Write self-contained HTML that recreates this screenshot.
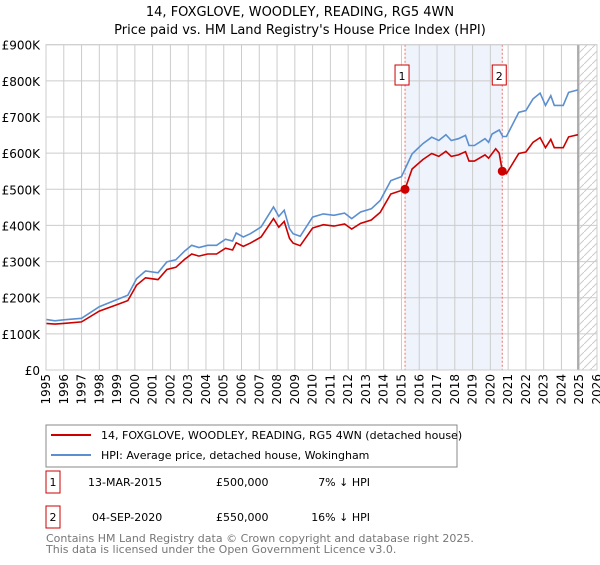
<!DOCTYPE html>
<html><head><meta charset="utf-8"><style>
body{margin:0;background:#fff;font-family:"Liberation Sans","DejaVu Sans",sans-serif;}
</style></head><body>
<svg width="600" height="560" xmlns="http://www.w3.org/2000/svg" font-family="DejaVu Sans, Liberation Sans, sans-serif">
<text x="300" y="16" text-anchor="middle" font-size="13">14, FOXGLOVE, WOODLEY, READING, RG5 4WN</text>
<text x="300" y="34" text-anchor="middle" font-size="13">Price paid vs. HM Land Registry's House Price Index (HPI)</text>
<g id="plot"></g>
<rect x="46" y="425" width="411" height="42" fill="#fff" stroke="#888"/>
<line x1="51" y1="435" x2="91" y2="435" stroke="#cc0000" stroke-width="2"/>
<text x="101" y="439" font-size="11">14, FOXGLOVE, WOODLEY, READING, RG5 4WN (detached house)</text>
<line x1="51" y1="455" x2="91" y2="455" stroke="#5b8fd0" stroke-width="2"/>
<text x="101" y="459" font-size="11">HPI: Average price, detached house, Wokingham</text>
<rect x="46" y="471" width="14" height="22" fill="#fff" stroke="#cc0000"/>
<text x="53" y="486" font-size="11" text-anchor="middle">1</text>
<text x="88" y="486" font-size="11">13-MAR-2015</text>
<text x="216" y="486" font-size="11">£500,000</text>
<text x="370" y="486" font-size="11" text-anchor="end">7% ↓ HPI</text>
<rect x="46" y="506" width="14" height="22" fill="#fff" stroke="#cc0000"/>
<text x="53" y="521" font-size="11" text-anchor="middle">2</text>
<text x="92" y="521" font-size="11">04-SEP-2020</text>
<text x="216" y="521" font-size="11">£550,000</text>
<text x="370" y="521" font-size="11" text-anchor="end">16% ↓ HPI</text>
<text x="46" y="542" font-size="11" fill="#777">Contains HM Land Registry data © Crown copyright and database right 2025.</text>
<text x="46" y="553" font-size="11" fill="#777">This data is licensed under the Open Government Licence v3.0.</text>
</svg>
<script>
const yearTicks=[1995,1996,1997,1998,1999,2000,2001,2002,2003,2004,2005,2006,2007,2008,2009,2010,2011,2012,2013,2014,2015,2016,2017,2018,2019,2020,2021,2022,2023,2024,2025,2026];
const yTicks=[0,100,200,300,400,500,600,700,800,900];
const yTickLabels=["£0","£100K","£200K","£300K","£400K","£500K","£600K","£700K","£800K","£900K"];
const hpiYears=[1995,1995.5,1996,1997,1998,1999,1999.6,2000.1,2000.6,2001.3,2001.8,2002.3,2002.8,2003.2,2003.6,2004.1,2004.6,2005.1,2005.5,2005.7,2006.1,2006.5,2007.1,2007.8,2008.1,2008.4,2008.7,2008.9,2009.3,2010.0,2010.6,2011.2,2011.8,2012.2,2012.7,2013.3,2013.8,2014.4,2015.0,2015.6,2016.2,2016.7,2017.1,2017.5,2017.8,2018.2,2018.6,2018.8,2019.1,2019.7,2019.9,2020.1,2020.5,2020.7,2020.9,2021.6,2022.0,2022.4,2022.8,2023.1,2023.4,2023.6,2024.1,2024.4,2024.93];
const hpiValues=[140,136,139,143,175,195,207,253,274,269,299,305,329,345,339,345,345,362,357,379,368,377,396,451,425,442,391,377,370,423,432,428,434,419,437,446,469,524,535,598,626,644,635,651,635,640,649,621,621,640,630,653,664,646,646,713,718,750,766,732,759,732,732,768,775];
const priceYears=[1995,1995.5,1996,1997,1998,1999,1999.6,2000.1,2000.6,2001.3,2001.8,2002.3,2002.8,2003.2,2003.6,2004.1,2004.6,2005.1,2005.5,2005.7,2006.1,2006.5,2007.1,2007.8,2008.1,2008.4,2008.7,2008.9,2009.3,2010.0,2010.6,2011.2,2011.8,2012.2,2012.7,2013.3,2013.8,2014.4,2015.2,2015.6,2016.2,2016.7,2017.1,2017.5,2017.8,2018.2,2018.6,2018.8,2019.1,2019.7,2019.9,2020.3,2020.5,2020.67,2020.9,2021.6,2022.0,2022.4,2022.8,2023.1,2023.4,2023.6,2024.1,2024.4,2024.93];
const priceValues=[129,127,129,133,163,181,192,235,255,250,278,284,306,321,315,321,321,337,332,352,342,351,368,419,395,411,364,351,344,393,402,398,404,390,406,415,436,487,500,556,582,599,591,605,591,595,604,578,578,595,586,612,600,550,543,599,603,630,643,615,638,615,615,645,651];
const saleYears=[2015.2,2020.67];
const saleValues=[500,550];
const saleLabels=["1","2"];
const NS="http://www.w3.org/2000/svg";
const X0=46,X1=597,Y0=370,Y1=44.7;
const xs=y=>X0+(y-1995)*(X1-X0)/31;
const ys=v=>Y0-v*(Y0-Y1)/900;
const g=document.getElementById('plot');
function mk(t,a){const e=document.createElementNS(NS,t);for(const k in a)e.setAttribute(k,a[k]);g.appendChild(e);return e;}
let e;
e=mk('rect',{x:xs(saleYears[0]),y:Y1,width:xs(saleYears[1])-xs(saleYears[0]),height:Y0-Y1,fill:'#eef3fc'});


yTicks.forEach((v,i)=>{
 e=mk('line',{x1:X0,x2:X1,y1:ys(v),y2:ys(v),stroke:'#ccc','stroke-width':1});
 
 
 e=mk('text',{x:40,y:ys(v)+5,'text-anchor':'end','font-size':12});
 e.textContent=yTickLabels[i];
 
 
});
yearTicks.forEach(yr=>{
 e=mk('line',{x1:xs(yr),x2:xs(yr),y1:Y1,y2:Y0,stroke:'#ccc','stroke-width':1});
 
 
 e=mk('text',{x:0,y:0,'font-size':12,'text-anchor':'end',transform:`translate(${xs(yr)+4},374) rotate(-90)`});
 e.textContent=yr;
 
 
});
const defs=mk('defs',{});
defs.innerHTML='<pattern id="h" width="8" height="8" patternUnits="userSpaceOnUse"><path d="M0,8 L8,0" stroke="#ccc" stroke-width="1"/></pattern>';
const lastYr=hpiYears[hpiYears.length-1];
e=mk('rect',{x:xs(lastYr),y:Y1,width:X1-xs(lastYr),height:Y0-Y1,fill:'url(#h)'});


e=mk('line',{x1:xs(lastYr),x2:xs(lastYr),y1:Y1,y2:Y0,stroke:'#999','stroke-width':1.5});


saleYears.forEach((yr,i)=>{
 e=mk('line',{x1:xs(yr),x2:xs(yr),y1:Y1,y2:Y0,stroke:'#f07070','stroke-width':1,'stroke-dasharray':'2,2'});
 
 
});
e=mk('path',{d:hpiYears.map((y,i)=>(i?'L':'M')+xs(y).toFixed(1)+','+ys(hpiValues[i]).toFixed(1)).join(''),fill:'none',stroke:'#5b8fd0','stroke-width':1.6});


e=mk('path',{d:priceYears.map((y,i)=>(i?'L':'M')+xs(y).toFixed(1)+','+ys(priceValues[i]).toFixed(1)).join(''),fill:'none',stroke:'#cc0000','stroke-width':1.6});


saleYears.forEach((yr,i)=>{
 e=mk('circle',{cx:xs(yr),cy:ys(saleValues[i]),r:4.5,fill:'#cc0000'});
 
 
 e=mk('rect',{x:xs(yr)-10,y:65,width:14,height:20,fill:'#fff',stroke:'#cc0000'});
 
 
 e=mk('text',{x:xs(yr)-3,y:80,'font-size':11,'text-anchor':'middle'});
 e.textContent=saleLabels[i];
 
 
});
e=mk('rect',{x:X0,y:Y1,width:X1-X0,height:Y0-Y1,fill:'none',stroke:'#ccc'});


</script>
</body></html>
